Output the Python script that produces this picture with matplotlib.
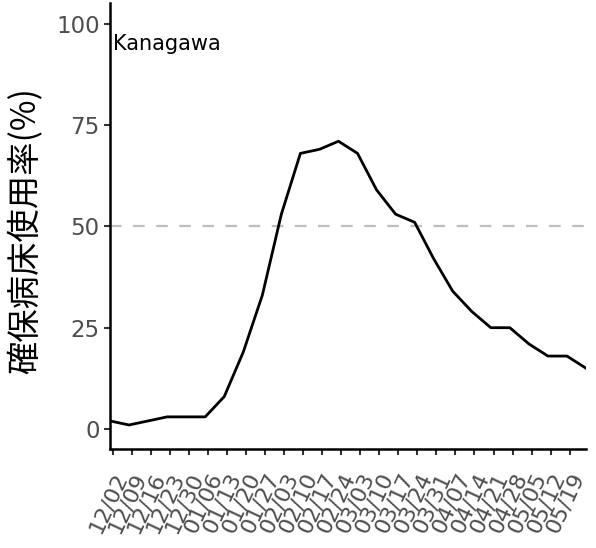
import numpy as np
import matplotlib
matplotlib.use("Agg")
import matplotlib.pyplot as plt
import matplotlib.dates as mdates
import datetime as dt

# weekly bed occupancy (%) for Kanagawa
start = dt.date(2020, 12, 1)
rates = [2, 1, 2, 3, 3, 3, 8, 19, 33, 53, 68, 69, 71, 68, 59, 53, 51, 42,
         34, 29, 25, 25, 21, 18, 18, 15]
dates = [start + dt.timedelta(days=7 * i) for i in range(len(rates))]

tick_start = dt.date(2020, 12, 2)
tick_dates = [tick_start + dt.timedelta(days=7 * i) for i in range(25)]
tick_labels = [d.strftime("%m/%d") for d in tick_dates]

yticks = [0, 25, 50, 75, 100]

fig = plt.figure(figsize=(5.96, 5.48), dpi=100)
ax = fig.add_axes([110 / 596, 1 - 449.3 / 548, 476 / 596, 445.9 / 548])

ax.axhline(50, color="#BEBEBE", lw=1.6, linestyle=(0, (5.2, 5.2)), zorder=1)
ax.plot(dates, rates, color="black", lw=2.0, zorder=2)

ax.text(dates[0] + dt.timedelta(days=1.5), 95, "Kanagawa", fontsize=15,
        ha="left", va="center", color="black")

ax.set_xlim(dates[0], dates[-1])
ax.set_ylim(-5, 105)
ax.set_yticks(yticks)
ax.set_yticklabels([str(v) for v in yticks], fontsize=16.5, color="#4D4D4D")
ax.set_xticks([mdates.date2num(d) for d in tick_dates])
ax.set_xticklabels(tick_labels, fontsize=16, color="#4D4D4D", rotation=65,
                   ha="right", va="top", rotation_mode="anchor")
ax.tick_params(axis="both", length=4.5, width=1.5, color="#333333")
ax.tick_params(axis="x", pad=10)
ax.tick_params(axis="y", pad=3)

for side in ["top", "right"]:
    ax.spines[side].set_visible(False)
for side in ["left", "bottom"]:
    ax.spines[side].set_linewidth(1.8)
    ax.spines[side].set_color("black")

ax.set_ylabel("確保病床使用率(%)", fontsize=24, family=["Noto Sans CJK JP", "DejaVu Sans"])
ax.yaxis.set_label_coords(-0.14, 0.49)

fig.savefig("out.png", dpi=100)
